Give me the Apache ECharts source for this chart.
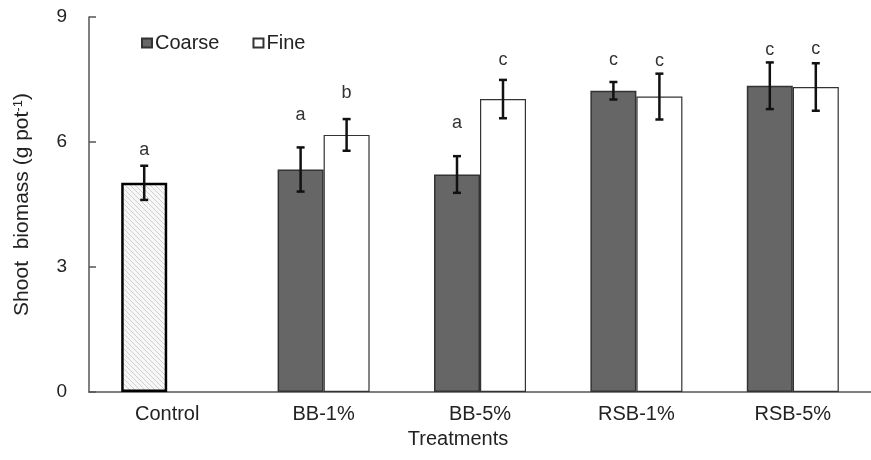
<!DOCTYPE html>
<html>
<head>
<meta charset="utf-8">
<script src="https://cdn.jsdelivr.net/npm/echarts@6/dist/echarts.min.js"></script>
<style>
  html, body { margin: 0; padding: 0; background: #fff; }
  #main { width: 871px; height: 460px; }
</style>
</head>
<body>
<div id="main"></div>
<script>
// data
const categories = ['Control', 'BB-1%', 'BB-5%', 'RSB-1%', 'RSB-5%'];
const coarse = [5.02, 5.34, 5.22, 7.23, 7.35];
const fine = [null, 6.17, 7.03, 7.09, 7.32];
const coarseErr = [0.41, 0.53, 0.44, 0.21, 0.56];
const fineErr = [null, 0.38, 0.46, 0.55, 0.57];
const coarseLetters = ['a', 'a', 'a', 'c', 'c'];
const fineLetters = [null, 'b', 'c', 'c', 'c'];
const coarseLetterY = [5.81, 6.65, 6.46, 7.97, 8.21];
const fineLetterY = [null, 7.17, 7.97, 7.95, 8.24];
const yTicks = [0, 3, 6, 9];

const FONT = '"Liberation Sans", Arial, sans-serif';
const BAR_W = 46;

var chart = echarts.init(document.getElementById('main'), null, { renderer: 'canvas' });

// hatch pattern for the control bar
function hatch() {
  var c = document.createElement('canvas');
  c.width = 5; c.height = 5;
  var ctx = c.getContext('2d');
  ctx.fillStyle = '#f7f7f7';
  ctx.fillRect(0, 0, 5, 5);
  ctx.strokeStyle = '#cfcfcf';
  ctx.lineWidth = 1;
  ctx.beginPath();
  ctx.moveTo(-1, -1); ctx.lineTo(6, 6);
  ctx.moveTo(-1, 4); ctx.lineTo(1, 6);
  ctx.moveTo(4, -1); ctx.lineTo(6, 1);
  ctx.stroke();
  return c;
}

function errSeries(name, vals, errs, letters, letterY, shift) {
  return {
    type: 'custom',
    name: name + '-err',
    z: 10,
    silent: true,
    data: vals.map(function (v, i) { return v == null ? null : [i, v, errs[i]]; }).filter(Boolean),
    renderItem: function (params, api) {
      var i = api.value(0), v = api.value(1), e = api.value(2);
      var top = api.coord([i, v + e]);
      var bot = api.coord([i, v - e]);
      var x = top[0] + shift;
      var lp = api.coord([i, letterY[i]]);
      var cap = 4;
      var st = { stroke: '#111', lineWidth: 2.5 };
      return {
        type: 'group',
        children: [
          { type: 'line', shape: { x1: x, y1: top[1], x2: x, y2: bot[1] }, style: st },
          { type: 'line', shape: { x1: x - cap, y1: top[1], x2: x + cap, y2: top[1] }, style: st },
          { type: 'line', shape: { x1: x - cap, y1: bot[1], x2: x + cap, y2: bot[1] }, style: st },
          { type: 'text', x: x, y: lp[1], style: { text: letters[i], fill: '#333', font: '18px ' + FONT, align: 'center', verticalAlign: 'middle' } }
        ]
      };
    }
  };
}

var coarseData = coarse.map(function (v, i) {
  if (i === 0) {
    return { value: v, itemStyle: { color: { image: hatch(), repeat: 'repeat' }, borderColor: '#000', borderWidth: 2.5 } };
  }
  return v;
});

var option = {
  animation: false,
  backgroundColor: '#fff',
  textStyle: { fontFamily: FONT },
  grid: { left: 89, top: 17, width: 790, height: 375, containLabel: false },
  legend: {
    left: 141, top: 33, padding: 0,
    itemWidth: 10, itemHeight: 9, itemGap: 33,
    icon: 'rect',
    data: ['Coarse', 'Fine'],
    textStyle: { fontSize: 20, color: '#222', fontFamily: FONT, padding: [0, 0, 0, -2] }
  },
  xAxis: {
    type: 'category',
    data: categories,
    name: 'Treatments',
    nameLocation: 'middle',
    nameGap: 37,
    nameTextStyle: { fontSize: 20, color: '#222', fontFamily: FONT, padding: [0, 44, 0, 0] },
    axisLine: { lineStyle: { color: '#555', width: 1.5 } },
    axisTick: { inside: true, length: 5, lineStyle: { color: '#555', width: 1.5 } },
    axisLabel: { fontSize: 20, color: '#222', margin: 12, fontFamily: FONT },
    splitLine: { show: false }
  },
  yAxis: {
    type: 'value',
    min: 0, max: 9, interval: 3,
    name: '{n|Shoot  biomass (g pot}{s|-1}{n|)}',
    nameLocation: 'middle',
    nameGap: 56,
    nameTextStyle: {
      rich: {
        n: { fontSize: 21, color: '#222', fontFamily: FONT },
        s: { fontSize: 13, color: '#222', fontFamily: FONT, verticalAlign: 'top', padding: [0, 0, 8, 0] }
      }
    },
    axisLine: { show: true, lineStyle: { color: '#555', width: 1.5 } },
    axisTick: { show: true, inside: true, length: 7, lineStyle: { color: '#555', width: 1.5 } },
    axisLabel: {
      fontSize: 19, color: '#222', margin: 22, fontFamily: FONT,
      formatter: function (v) { return yTicks.indexOf(v) >= 0 ? String(v) : ''; }
    },
    splitLine: { show: false }
  },
  series: [
    {
      name: 'Coarse', type: 'bar', barWidth: BAR_W, barGap: '0%',
      itemStyle: { color: '#666', borderColor: '#333', borderWidth: 1.5 },
      data: coarseData
    },
    {
      name: 'Fine', type: 'bar', barWidth: BAR_W, barGap: '0%',
      itemStyle: { color: '#fff', borderColor: '#333', borderWidth: 1.2 },
      data: fine.map(function (v) { return v == null ? '-' : v; })
    },
    errSeries('Coarse', coarse, coarseErr, coarseLetters, coarseLetterY, -BAR_W / 2),
    errSeries('Fine', fine, fineErr, fineLetters, fineLetterY, BAR_W / 2)
  ]
};

chart.setOption(option);
</script>
</body>
</html>
